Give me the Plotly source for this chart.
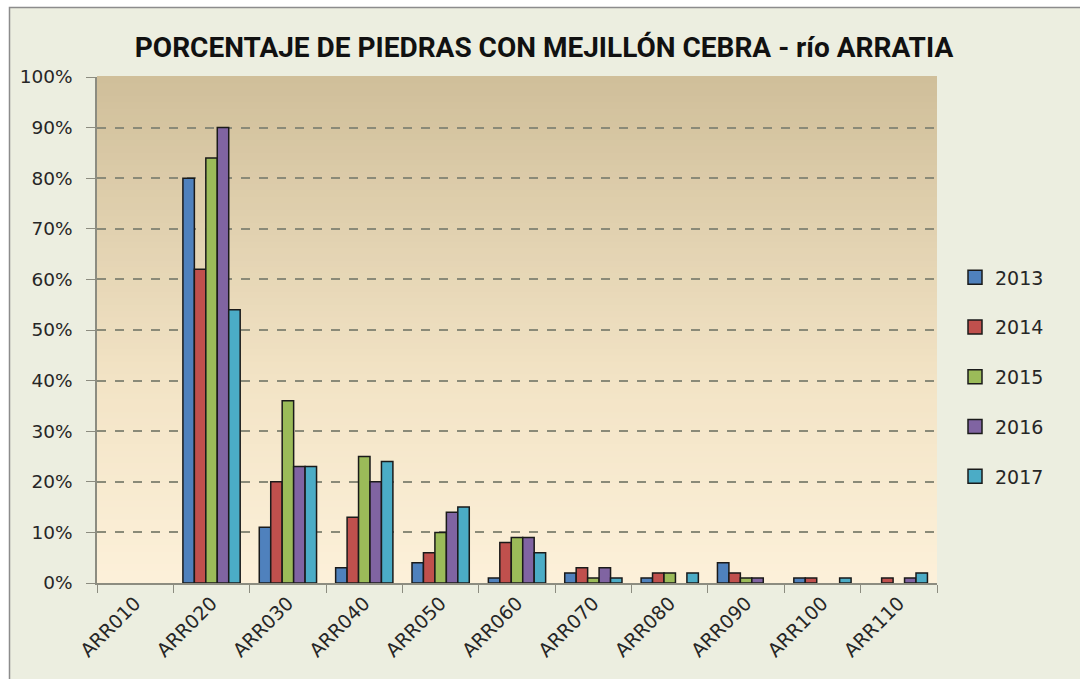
import plotly.graph_objects as go

categories = ["ARR010", "ARR020", "ARR030", "ARR040", "ARR050", "ARR060",
              "ARR070", "ARR080", "ARR090", "ARR100", "ARR110"]
years = ["2013", "2014", "2015", "2016", "2017"]
v2013 = [0, 80, 11, 3, 4, 1, 2, 1, 4, 1, 0]
v2014 = [0, 62, 20, 13, 6, 8, 3, 2, 2, 1, 1]
v2015 = [0, 84, 36, 25, 10, 9, 1, 2, 1, 0, 0]
v2016 = [0, 90, 23, 20, 14, 9, 3, 0, 1, 0, 1]
v2017 = [0, 54, 23, 24, 15, 6, 1, 2, 0, 1, 2]
series = [v2013, v2014, v2015, v2016, v2017]
colors = ["#4f81bd", "#c0504d", "#9bbb59", "#8064a2", "#4bacc6"]

W, H = 1080, 679
L, R, T, B = 97, 143, 77, 96
pw, ph = W - L - R, H - T - B

def px_x(x):
    return (x - L) / pw

def px_y(y):
    return (H - B - y) / ph

fig = go.Figure()
for name, vals, c in zip(years, series, colors):
    fig.add_trace(go.Bar(
        x=categories, y=[v / 100 for v in vals], name=name, legendgroup=name,
        showlegend=False,
        marker=dict(color=c, line=dict(color="#1a1a1a",
                                       width=[1.5 if v > 0 else 0 for v in vals])),
    ))
# legend entries (square swatches)
for name, c in zip(years, colors):
    fig.add_trace(go.Scatter(
        x=[None], y=[None], mode="markers", name=name, legendgroup=name,
        marker=dict(symbol="square", size=14, color=c,
                    line=dict(color="#1a1a1a", width=1.5)),
    ))

shapes = []
# outer frame
shapes.append(dict(type="rect", xref="paper", yref="paper", layer="below",
                   x0=px_x(9.5), x1=px_x(W + 20), y0=px_y(H + 20), y1=px_y(7.5),
                   fillcolor="#eceee0", line=dict(color="#8c8c8c", width=1.5)))
# gradient plot background
top = (208, 191, 154)
mid = (243, 228, 198)
bot = (253, 241, 218)
n = 80
for i in range(n):
    f0, f1 = i / n, (i + 1) / n
    fm = (f0 + f1) / 2  # 0 bottom, 1 top
    if fm > 0.4:
        t = (fm - 0.4) / 0.6
        col = tuple(int(mid[k] + (top[k] - mid[k]) * t) for k in range(3))
    else:
        t = fm / 0.4
        col = tuple(int(bot[k] + (mid[k] - bot[k]) * t) for k in range(3))
    shapes.append(dict(type="rect", xref="paper", yref="paper", layer="below",
                       x0=0, x1=1, y0=f0, y1=f1 + 0.002,
                       fillcolor="rgb(%d,%d,%d)" % col, line=dict(width=0)))

tick_font = dict(family="DejaVu Sans", size=18.5, color="#262626")
x_font = dict(family="DejaVu Sans", size=19, color="#262626")

fig.update_layout(
    width=W, height=H,
    margin=dict(l=L, r=R, t=T, b=B),
    paper_bgcolor="white",
    plot_bgcolor="rgba(0,0,0,0)",
    shapes=shapes,
    barmode="group", bargap=0.25, bargroupgap=0,
    title=dict(text="<b>PORCENTAJE DE PIEDRAS CON MEJILLÓN CEBRA - río ARRATIA</b>",
               xref="container", x=544 / W, xanchor="center",
               yref="container", y=1 - 47 / H, yanchor="middle",
               font=dict(family="Roboto", size=28, color="#111111")),
    legend=dict(x=px_x(955), xanchor="left", y=px_y(377), yanchor="middle",
                font=dict(family="DejaVu Sans", size=19, color="#262626"),
                bgcolor="rgba(0,0,0,0)",
                traceorder="grouped", tracegroupgap=22, itemwidth=30),
    xaxis=dict(type="category", tickson="boundaries", ticks="outside", ticklen=8,
               tickcolor="#8c8c80", showline=True, linecolor="#8c8c80", linewidth=1.5,
               tickangle=-45, tickfont=x_font, showgrid=False),
    yaxis=dict(range=[0, 1], dtick=0.1, tickformat=".0%", ticks="outside", ticklen=9,
               tickcolor="#8c8c80", showline=True, linecolor="#8c8c80", linewidth=1.5,
               showgrid=True, gridcolor="#8a8a78", griddash="dash", gridwidth=1.5,
               tickfont=tick_font, zeroline=False, ticklabelstandoff=10),
    showlegend=True,
)

fig.write_html("out.html", config={"displayModeBar": False},
               post_script="document.body.style.margin='0';")
